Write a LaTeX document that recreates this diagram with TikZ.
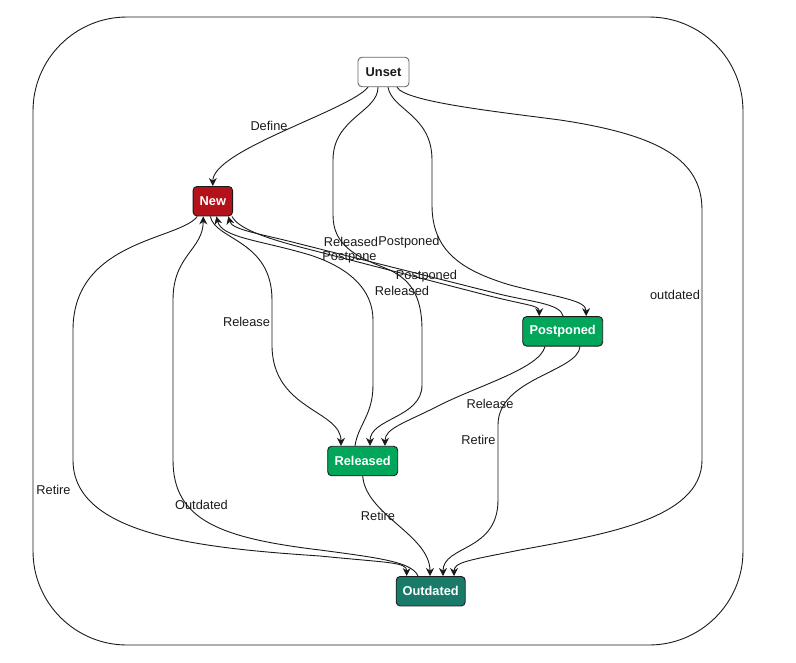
\documentclass[tikz,border=0pt]{standalone}
\usepackage{fontspec}
\setmainfont{Liberation Sans}
\usetikzlibrary{arrows.meta}
\definecolor{newred}{HTML}{B3121A}
\definecolor{stgreen}{HTML}{00A65A}
\definecolor{outteal}{HTML}{1A7A69}
\definecolor{lnc}{HTML}{1A1A1A}
\tikzset{
  statebox/.style={draw=lnc, line width=0.9pt, rounded corners=4pt, minimum height=29.5pt, inner sep=1pt,
    font=\fontsize{12.8}{15}\selectfont\bfseries, text=white},
  edge/.style={draw=lnc, line width=0.9pt},
  arr/.style={edge, -{Stealth[length=8pt,width=8pt,inset=2.6pt]}},
  lbl/.style={inner sep=0pt, font=\fontsize{12.8}{15}\selectfont, text=lnc}
}
\begin{document}
\begin{tikzpicture}[x=1pt,y=-1pt]
\useasboundingbox (0,0) rectangle (796,662);
\draw[lnc, line width=0.9pt, rounded corners=94pt] (33,17) rectangle (743,645);

% nodes
\node[statebox, fill=white, text=lnc, draw=black!60, minimum width=51pt] (unset) at (383.5,72) {Unset};
\node[statebox, fill=newred, minimum width=39.5pt] (new) at (212.8,201.2) {New};
\node[statebox, fill=stgreen, minimum width=80pt] (post) at (562.7,331.3) {Postponed};
\node[statebox, fill=stgreen, minimum width=70pt] (rel) at (362.7,461) {Released};
\node[statebox, fill=outteal, minimum width=69pt] (out) at (430.7,591.2) {Outdated};

% Unset -> New (Define)
\draw[arr] ([xshift=-15.5pt]unset.south) .. controls (350,110) and (212.8,150) .. (new.north);
% Unset -> Released
\draw[arr] ([xshift=-5.5pt]unset.south) .. controls (378,112) and (333,118) .. (333,160) -- (333,215)
  .. controls (333,245) and (355,256) .. (385,268) .. controls (410,278) and (422,295) .. (422,330) -- (422,385)
  .. controls (422,418) and (370,418) .. ([xshift=7.3pt]rel.north);
% Unset -> Postponed
\draw[arr] ([xshift=4.5pt]unset.south) .. controls (392,110) and (432,115) .. (432,160) -- (432,205)
  .. controls (432,250) and (460,270) .. (510,285) .. controls (560,298) and (586,300) .. ([xshift=23.5pt]post.north);
% Unset -> Outdated
\draw[arr] ([xshift=13.5pt]unset.south) .. controls (405,102) and (500,112) .. (560,120)
  .. controls (660,135) and (702,160) .. (702,210) -- (702,460)
  .. controls (702,520) and (600,535) .. (520,550) .. controls (470,560) and (454,562) .. ([xshift=23.3pt]out.north);
% New -> Outdated (Retire)
\draw[arr] ([xshift=-15.5pt]new.south) .. controls (180,240) and (73,240) .. (73,330) -- (73,460)
  .. controls (73,535) and (200,548) .. (320,556) .. controls (390,563) and (406.7,562) .. ([xshift=-24pt]out.north);
% Outdated -> New
\draw[arr] ([xshift=-12.7pt]out.north) .. controls (412,562) and (380,558) .. (320,550)
  .. controls (220,538) and (173,520) .. (173,460) -- (173,300)
  .. controls (173,255) and (203,250) .. ([xshift=-9.5pt]new.south);
% New -> Released (Release)
\draw[arr] ([xshift=-2.5pt]new.south) .. controls (215,240) and (272,240) .. (272,300) -- (272,345)
  .. controls (272,410) and (341,410) .. ([xshift=-21.7pt]rel.north);
% New -> Postponed (Postpone)
\draw[arr] ([xshift=-1pt]new.south east) .. controls (238,228) and (262,237) .. (300,247) -- (480,293.5)
  .. controls (528,306) and (539.2,305) .. ([xshift=-23.5pt]post.north);
% Postponed -> New
\draw[arr] ([xshift=0.5pt]post.north) .. controls (560,303) and (530,302) .. (495,293) -- (300,244)
  .. controls (262,234) and (232,230) .. ([xshift=15.5pt]new.south);
% Released -> New
\draw[arr] ([xshift=-7.7pt]rel.north) .. controls (358,425) and (373,415) .. (373,385) -- (373,320)
  .. controls (373,290) and (350,268) .. (310,255) .. controls (260,240) and (222,238) .. ([xshift=3.5pt]new.south);
% Released -> Outdated (Retire)
\draw[arr] (rel.south) .. controls (366,515) and (430,535) .. ([xshift=-0.7pt]out.north);
% Postponed -> Released (Release)
\draw[arr] ([xshift=-17.7pt]post.south) .. controls (540,368) and (480,385) .. (440,405)
  .. controls (405,423) and (385,428) .. ([xshift=22.3pt]rel.north);
% Postponed -> Outdated (Retire)
\draw[arr] ([xshift=17.3pt]post.south) .. controls (578,372) and (498,378) .. (498,425) -- (498,500)
  .. controls (498,552) and (443,545) .. ([xshift=12.3pt]out.north);

% labels
\node[lbl] (lDefine) at (269,126) {Define};
\node[lbl] (lRelU) at (351,242) {Released};
\node[lbl] (lPostU) at (409,242) {Postponed};
\node[lbl] (lPostpone) at (349.5,257) {Postpone};
\node[lbl] (lPostN) at (426.5,276) {Postponed};
\node[lbl] (lRelN) at (402,291) {Released};
\node[lbl] (lRelease1) at (246.5,322) {Release};
\node[lbl] (lOutdatedU) at (675,295) {outdated};
\node[lbl] (lRelease2) at (490,404) {Release};
\node[lbl] (lRetireP) at (478.5,440) {Retire};
\node[lbl] (lRetireR) at (378,516) {Retire};
\node[lbl] (lRetireN) at (53.5,490) {Retire};
\node[lbl] (lOutdated) at (201.5,505) {Outdated};
\end{tikzpicture}
\end{document}
